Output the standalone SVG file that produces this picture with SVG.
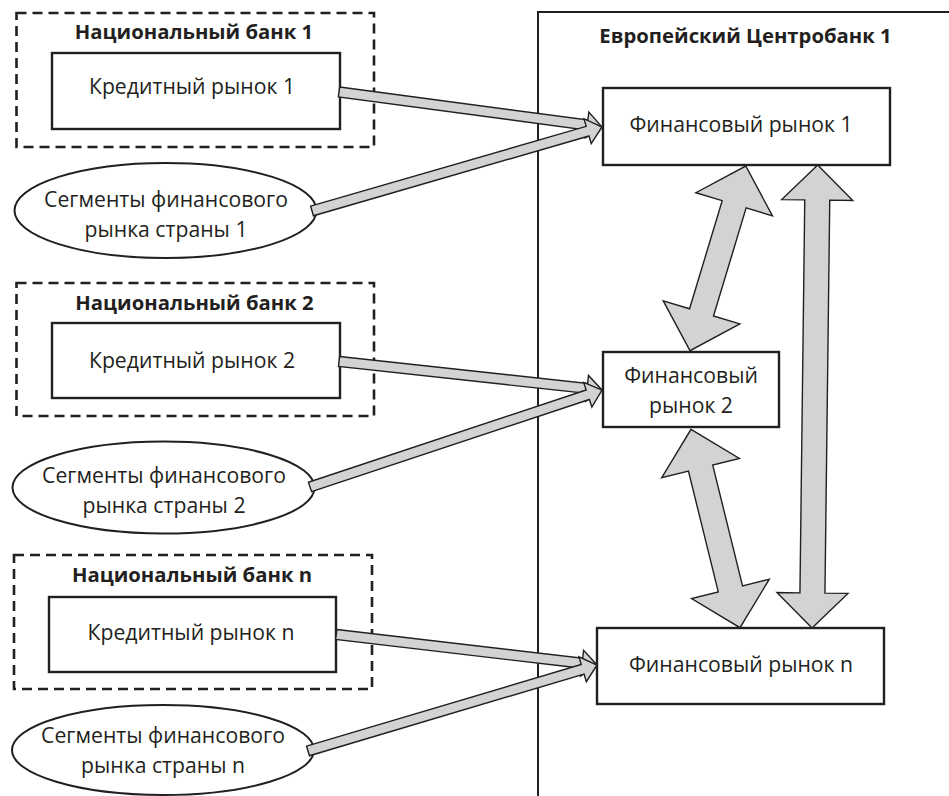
<svg xmlns="http://www.w3.org/2000/svg" width="949" height="796" viewBox="0 0 949 796">
<style>
.box{fill:#fff;stroke:#231f20;stroke-width:2.4}
.dash{fill:none;stroke:#231f20;stroke-width:2.6;stroke-dasharray:10,6}
.ell{fill:#fff;stroke:#231f20;stroke-width:2}
.arr{fill:#d1d3d4;stroke:#231f20;stroke-width:1.4;stroke-linejoin:miter}
.t{font-family:"Open Sans","Noto Sans",sans-serif;font-size:21.2px;fill:#231f20;text-anchor:middle}
.b{font-family:"Open Sans","Noto Sans",sans-serif;font-size:20.3px;font-weight:bold;fill:#231f20;text-anchor:middle}
</style>
<rect width="949" height="796" fill="#fff"/>
<g id="ecb">
<rect x="538" y="12" width="430" height="800" fill="none" stroke="#231f20" stroke-width="2"/>
<text class="b" x="745.5" y="43">Европейский Центробанк 1</text>
</g>
<g id="nb1">
<rect class="dash" x="16.5" y="13" width="357.5" height="134"/>
<text class="b" x="194" y="39">Национальный банк 1</text>
</g>
<g id="credit1">
<rect class="box" x="52" y="53" width="288" height="76"/>
<text class="t" x="192" y="94">Кредитный рынок 1</text>
</g>
<g id="seg1">
<ellipse class="ell" cx="165.5" cy="210.5" rx="151" ry="47.5"/>
<text class="t" x="166" y="207">Сегменты финансового</text>
<text class="t" x="166" y="237">рынка страны 1</text>
</g>
<g id="nb2">
<rect class="dash" x="16.5" y="283" width="357.5" height="133"/>
<text class="b" x="194.5" y="310">Национальный банк 2</text>
</g>
<g id="credit2">
<rect class="box" x="52" y="323" width="288" height="75"/>
<text class="t" x="192" y="368">Кредитный рынок 2</text>
</g>
<g id="seg2">
<ellipse class="ell" cx="163.5" cy="487.5" rx="151" ry="46"/>
<text class="t" x="164" y="483">Сегменты финансового</text>
<text class="t" x="164" y="513">рынка страны 2</text>
</g>
<g id="nbn">
<rect class="dash" x="14" y="555" width="358" height="134"/>
<text class="b" x="192" y="582">Национальный банк n</text>
</g>
<g id="creditn">
<rect class="box" x="49" y="597" width="287" height="75"/>
<text class="t" x="191" y="640">Кредитный рынок n</text>
</g>
<g id="segn">
<ellipse class="ell" cx="163" cy="750" rx="151" ry="45"/>
<text class="t" x="163" y="743">Сегменты финансового</text>
<text class="t" x="163" y="773">рынка страны n</text>
</g>
<g id="fin1">
<rect class="box" x="603" y="88" width="287" height="77"/>
<text class="t" x="741" y="132">Финансовый рынок 1</text>
</g>
<g id="fin2">
<rect class="box" x="603" y="352" width="176" height="75"/>
<text class="t" x="691" y="383">Финансовый</text>
<text class="t" x="691" y="413">рынок 2</text>
</g>
<g id="finn">
<rect class="box" x="597" y="628" width="287" height="76"/>
<text class="t" x="741" y="672">Финансовый рынок n</text>
</g>
<g id="connectors">
<polygon class="arr" transform="translate(602,127) rotate(7.58)" points="-265.3,-5 -15,-5 -15,-13 0,0 -15,13 -15,5 -265.3,5"/>
<polygon class="arr" transform="translate(602,127) rotate(-16.15)" points="-301.9,-5 -15,-5 -15,-13 0,0 -15,13 -15,5 -301.9,5"/>
<polygon class="arr" transform="translate(602,390) rotate(6.18)" points="-264.5,-5 -15,-5 -15,-13 0,0 -15,13 -15,5 -264.5,5"/>
<polygon class="arr" transform="translate(602,390) rotate(-18.37)" points="-307.7,-5 -15,-5 -15,-13 0,0 -15,13 -15,5 -307.7,5"/>
<polygon class="arr" transform="translate(597,665) rotate(6.67)" points="-262.5,-5 -15,-5 -15,-13 0,0 -15,13 -15,5 -262.5,5"/>
<polygon class="arr" transform="translate(597,665) rotate(-16.57)" points="-301.5,-5 -15,-5 -15,-13 0,0 -15,13 -15,5 -301.5,5"/>
<polygon class="arr" transform="translate(717.85,258.35) rotate(-73.2)" points="-96.45,0 -56.45,-40 -56.45,-12.5 56.45,-12.5 56.45,-40 96.45,0 56.45,40 56.45,12.5 -56.45,12.5 -56.45,40"/>
<polygon class="arr" transform="translate(715.5,528.5) rotate(76.13)" points="-102.2,0 -62.2,-40 -62.2,-12.5 62.2,-12.5 62.2,-40 102.2,0 62.2,40 62.2,12.5 -62.2,12.5 -62.2,40"/>
<polygon class="arr" transform="translate(814.85,396.5) rotate(90.7)" points="-231.5,0 -196.5,-35.5 -196.5,-12.5 196.5,-12.5 196.5,-35.5 231.5,0 196.5,35.5 196.5,12.5 -196.5,12.5 -196.5,35.5"/>
</g>
</svg>
